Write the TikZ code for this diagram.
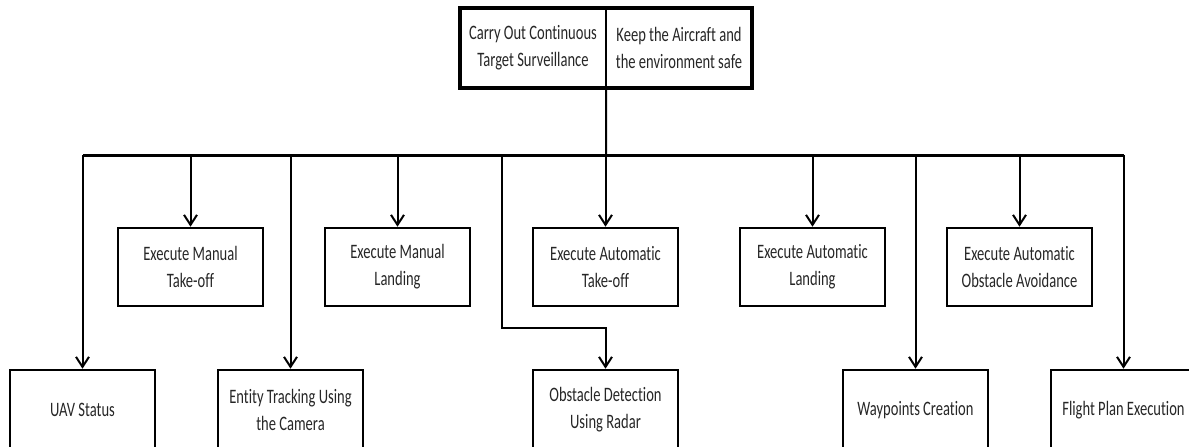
\documentclass[tikz,border=0pt]{standalone}
\usepackage{fontspec}
\setmainfont{Carlito}[FakeStretch=0.71,Ligatures=NoCommon]
\usetikzlibrary{arrows.meta}
\begin{document}
\begin{tikzpicture}[x=1pt,y=-1pt,
  box/.style={draw=black,line width=2.6pt,minimum width=145pt,minimum height=78pt,
    align=center,inner sep=0pt,font=\fontsize{20.5pt}{27pt}\selectfont,text=black!85},
  lowbox/.style={box,minimum height=80pt},
  half/.style={minimum width=146pt,minimum height=80pt,align=center,inner sep=0pt,
    font=\fontsize{20.5pt}{27pt}\selectfont,text=black!85},
  conn/.style={line width=2pt},
  arr/.style={conn,-{Straight Barb[length=10pt,width=13pt,line width=2pt]}},
  bus/.style={line width=3pt}]
\useasboundingbox (0,0) rectangle (1189,447);
% top goal box
\node[half] (g1) at (533,48) {Carry Out Continuous\\Target Surveillance};
\node[half] (g2) at (679,48) {Keep the Aircraft and\\the environment safe};
\draw[line width=4pt] (g1.north west) rectangle (g2.south east);
\draw[line width=2pt] (g1.north east) -- (g1.south east);
% bus
\coordinate (busL) at (83,155);
\coordinate (busR) at (1124,155);
\coordinate (busC) at (606,155);
\coordinate (jog) at (502,155);
\coordinate (bend) at (502,328);
\draw[bus] (busL) -- (busR);
\draw[conn] (g1.south east) -- (busC);
% level 1
\node[box] (mto) at (190.5,267) {Execute Manual\\Take-off};
\node[box] (mla) at (397.5,267) {Execute Manual\\Landing};
\node[box] (ato) at (605.5,267) {Execute Automatic\\Take-off};
\node[box] (ala) at (812.5,267) {Execute Automatic\\Landing};
\node[box] (aoa) at (1019.5,267) {Execute Automatic\\Obstacle Avoidance};
% level 2
\node[lowbox] (uav) at (82.5,410) {UAV Status};
\node[lowbox] (ent) at (290.5,410) {Entity Tracking Using\\the Camera};
\node[lowbox] (odr) at (605.5,410) {Obstacle Detection\\Using Radar};
\node[lowbox] (way) at (915.5,410) {Waypoints Creation};
\node[lowbox] (fpe) at (1123.5,410) {Flight Plan Execution};
% arrows
\foreach \n in {mto,mla,ato,ala,aoa,uav,ent,way,fpe}
  \draw[arr] (\n.north |- busL) -- (\n.north);
\draw[arr] (jog) -- (bend) -| (odr.north);
\end{tikzpicture}
\end{document}
